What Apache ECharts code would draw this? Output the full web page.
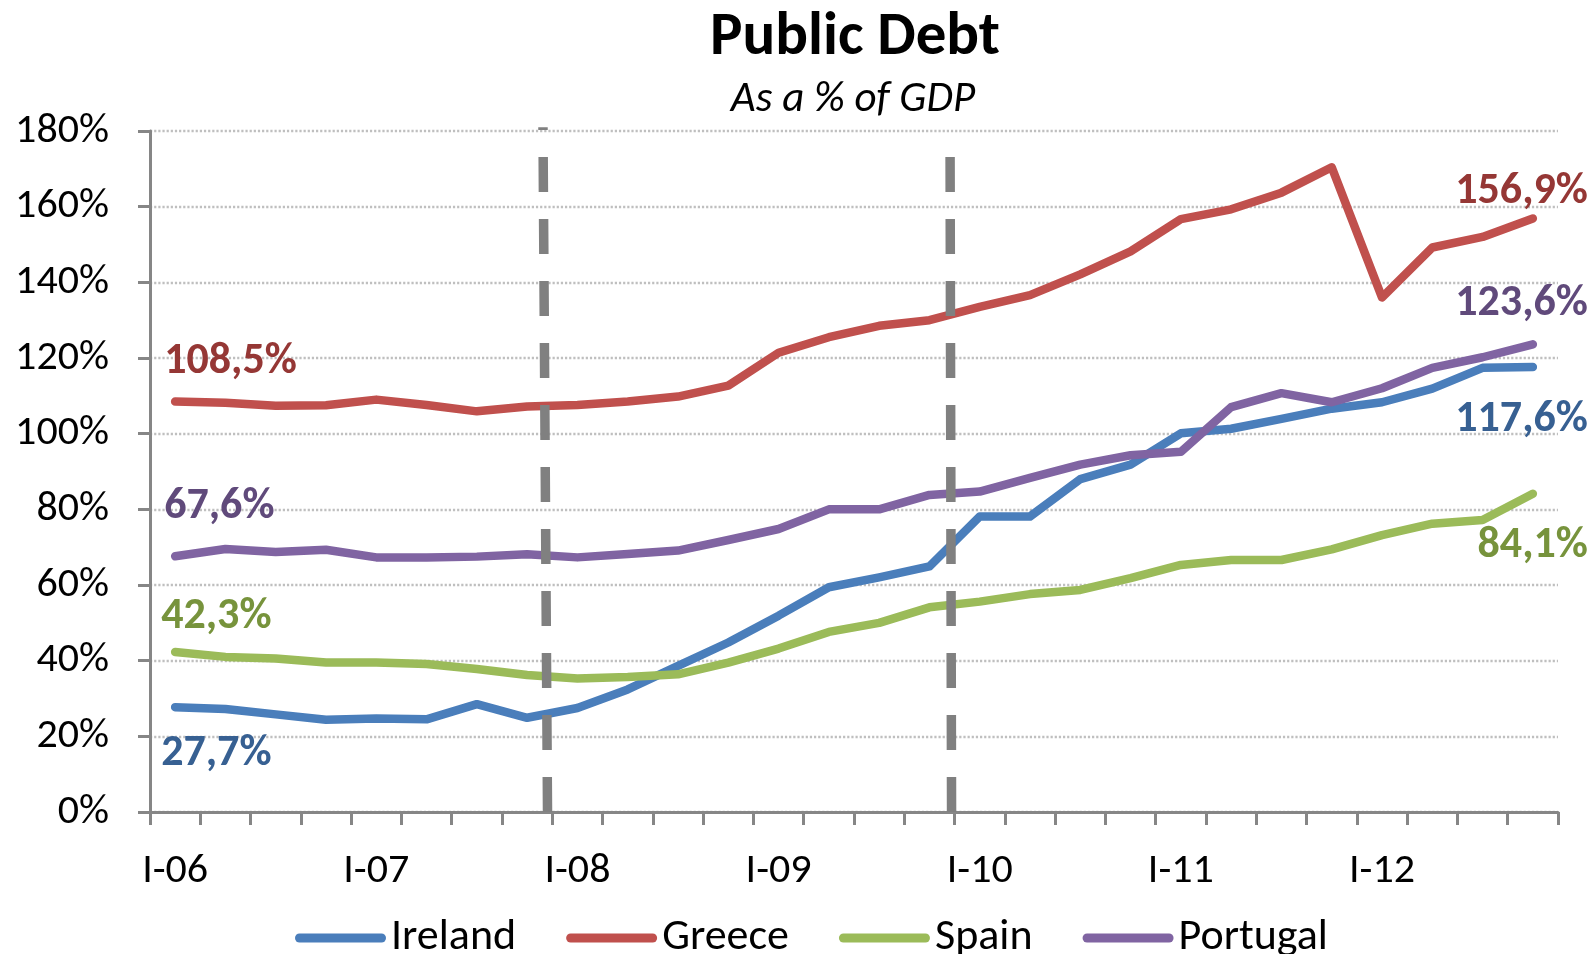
<!DOCTYPE html>
<html>
<head>
<meta charset="utf-8">
<script src="https://cdn.jsdelivr.net/npm/echarts@6/dist/echarts.min.js"></script>
<style>
html,body{margin:0;padding:0;background:#fff;}
#chart{width:1594px;height:954px;}
</style>
</head>
<body>
<div id="chart"></div>
<script>
// ---- Data ----
const quarters = [
  'I-06','II-06','III-06','IV-06','I-07','II-07','III-07','IV-07',
  'I-08','II-08','III-08','IV-08','I-09','II-09','III-09','IV-09',
  'I-10','II-10','III-10','IV-10','I-11','II-11','III-11','IV-11',
  'I-12','II-12','III-12','IV-12'
];
const ireland  = [27.7,27.2,25.8,24.4,24.7,24.5,28.5,24.9,27.5,32.4,38.6,44.8,51.9,59.4,62.0,64.9,78.1,78.1,88.0,91.8,100.1,101.3,103.9,106.6,108.3,111.9,117.4,117.6];
const greece   = [108.5,108.2,107.4,107.5,109.0,107.6,105.9,107.2,107.6,108.5,109.8,112.7,121.4,125.5,128.5,130.0,133.5,136.6,142.1,148.2,156.7,159.3,163.7,170.4,136.0,149.2,152.0,156.9];
const spain    = [42.3,41.0,40.6,39.5,39.5,39.1,37.8,36.2,35.3,35.7,36.4,39.5,43.2,47.6,50.0,54.1,55.6,57.6,58.7,61.8,65.3,66.6,66.6,69.4,73.2,76.2,77.2,84.1];
const portugal = [67.6,69.5,68.7,69.3,67.3,67.3,67.5,68.1,67.3,68.2,69.1,71.9,74.8,80.0,80.0,83.8,84.7,88.3,91.8,94.3,95.2,107.0,110.7,108.3,112.0,117.4,120.2,123.6];
// vertical dashed markers (quarter-index position, % value)
const marker1 = [[7.905,0],[7.815,181]];
const marker2 = [[15.94,0],[15.91,178]];
const yTicks = {min:0, max:180, step:20};

const FONT = "Carlito, 'Liberation Sans Narrow', 'Open Sans', sans-serif";
const fmt = v => v.toFixed(1).replace('.', ',') + '%';

function withLabels(values, color, first, last){
  return values.map((v,i)=>{
    const cfg = i===0 ? first : (i===values.length-1 ? last : null);
    if(!cfg) return v;
    return {value:v, label:{show:true, position:'inside', align:cfg.align, verticalAlign:'middle',
      offset:cfg.offset, color:color, fontFamily:FONT, fontWeight:'bold', fontSize:44,
      formatter:p=>fmt(p.value)}};
  });
}

const lineSeries = (name, values, color, labelColor, first, last) => ({
  name, type:'line', data: withLabels(values, labelColor, first, last),
  xAxisIndex:0, yAxisIndex:0,
  symbol:'circle', symbolSize:0, showSymbol:true,
  itemStyle:{color}, lineStyle:{color, width:8.5, cap:'round', join:'round'},
  emphasis:{disabled:true}, z:3
});

const markerSeries = (data) => ({
  type:'line', data, xAxisIndex:1, yAxisIndex:0, symbol:'none', clip:false,
  lineStyle:{color:'#808080', width:9.5, type:[35,27]}, z:5, silent:true,
  emphasis:{disabled:true}, legendHoverLink:false
});

const chart = echarts.init(document.getElementById('chart'));
chart.setOption({
  animation:false,
  backgroundColor:'#ffffff',
  title:[
    {text:'Public Debt', left:850, textAlign:'center', top:3,
     textStyle:{fontFamily:FONT, fontWeight:'bold', fontSize:61, color:'#000'}},
    {text:'As a % of GDP', left:848, textAlign:'center', top:74,
     textStyle:{fontFamily:FONT, fontStyle:'italic', fontWeight:'normal', fontSize:43, color:'#000'}}
  ],
  legend:{
    data:['Ireland','Greece','Spain','Portugal'],
    left:290, top:911, itemGap:50, itemWidth:91, itemHeight:9,
    icon:'path://M4.5,0 L86.5,0 A4.5,4.5 0 0 1 86.5,9 L4.5,9 A4.5,4.5 0 0 1 4.5,0 Z',
    textStyle:{fontFamily:FONT, fontSize:44, color:'#000', padding:[0,0,0,0]}
  },
  grid:{left:150, right:36, top:131, bottom:142, containLabel:false},
  xAxis:[
    {type:'category', data:quarters, boundaryGap:true,
     axisLine:{lineStyle:{color:'#868686', width:3}},
     axisTick:{show:true, interval:0, length:13, lineStyle:{color:'#868686', width:3}},
     axisLabel:{interval:3, margin:38, fontFamily:FONT, fontSize:42, color:'#000'},
     splitLine:{show:false}},
    {type:'value', min:0, max:quarters.length, show:false}
  ],
  yAxis:{type:'value', min:yTicks.min, max:yTicks.max, interval:yTicks.step,
    axisLine:{show:true, lineStyle:{color:'#868686', width:3}},
    axisTick:{show:true, length:12, lineStyle:{color:'#868686', width:3}},
    axisLabel:{margin:41, fontFamily:FONT, fontSize:42, color:'#000', formatter:'{value}%'},
    splitLine:{show:true, lineStyle:{color:'#BFBFBF', width:2.3, type:[2.2,1.95]}}
  },
  series:[
    lineSeries('Ireland', ireland, '#4A7EBB', '#376092', {align:'left', offset:[-14,47]}, {align:'right', offset:[55,53]}),
    lineSeries('Greece', greece, '#C0504D', '#953735', {align:'left', offset:[-11,-40]}, {align:'right', offset:[55,-26]}),
    lineSeries('Spain', spain, '#9BBB59', '#77933C', {align:'left', offset:[-14,-35]}, {align:'right', offset:[55,52]}),
    lineSeries('Portugal', portugal, '#8064A2', '#604A7B', {align:'left', offset:[-11,-49]}, {align:'right', offset:[55,-40]}),
    markerSeries(marker1),
    markerSeries(marker2)
  ]
});
</script>
</body>
</html>
